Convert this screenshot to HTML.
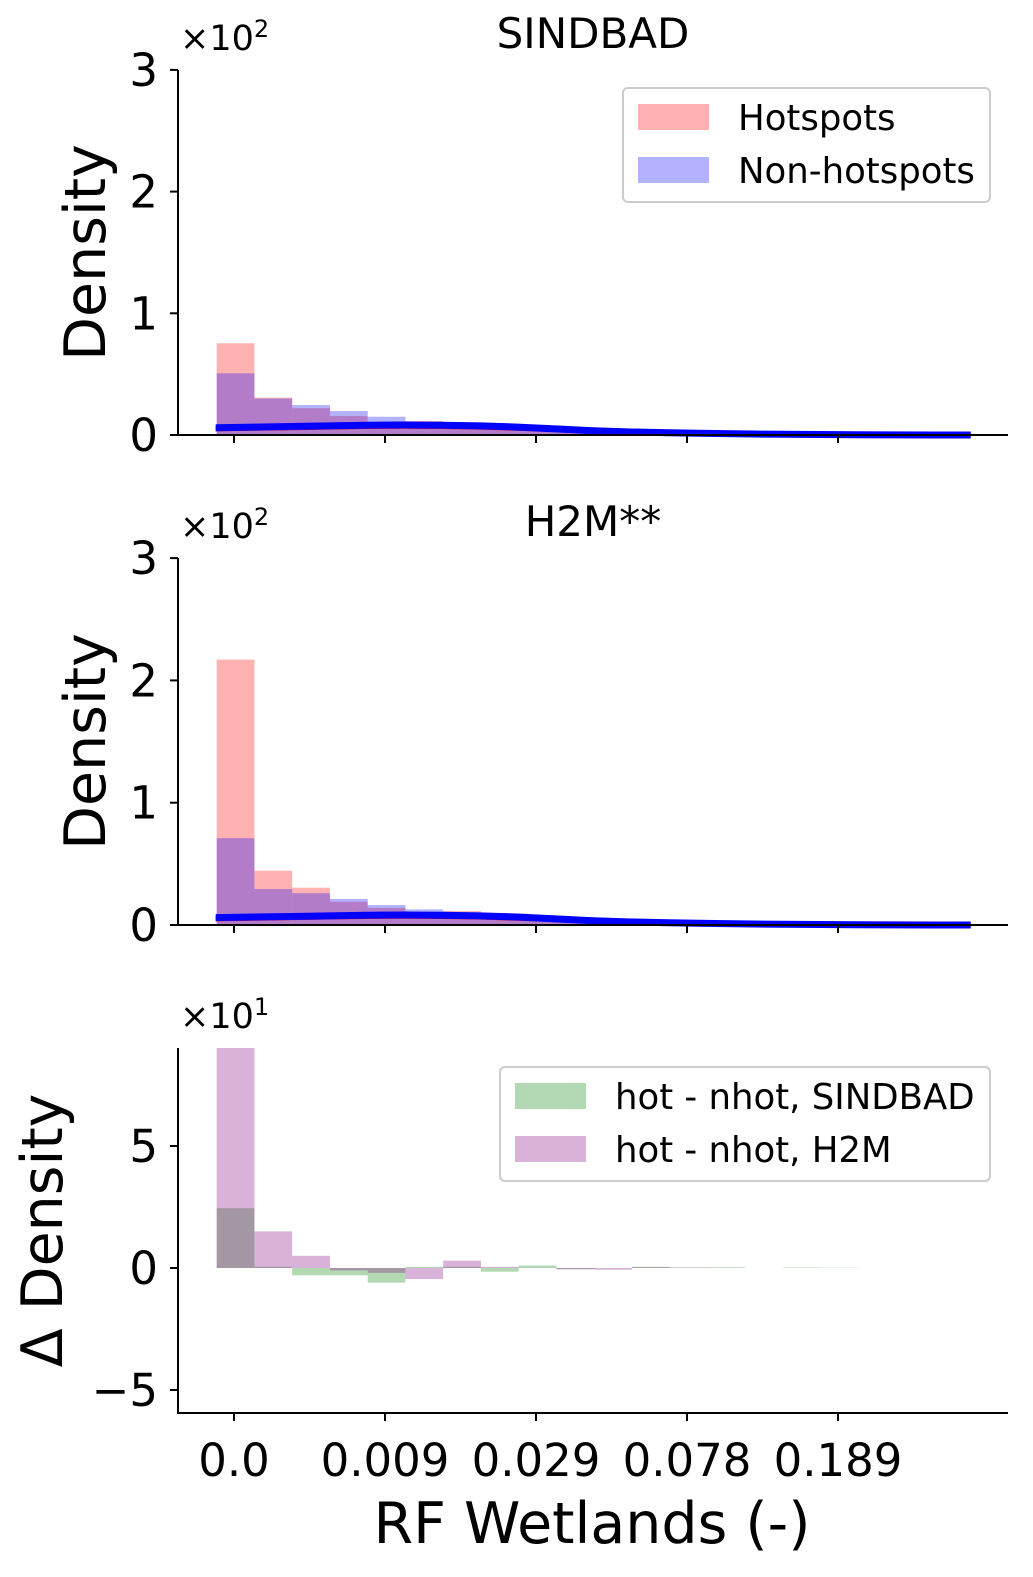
<!DOCTYPE html>
<html><head><meta charset="utf-8"><style>
body{margin:0;background:#fff}
svg{display:block;font-family:"DejaVu Sans","Liberation Sans",sans-serif}
</style></head><body>
<svg id="chart" width="1033" height="1577" viewBox="0 0 1033 1577"></svg>
<script>
const binCount = 20;
const xTickLabels = ["0.0","0.009","0.029","0.078","0.189"];
const xTickBins = [0.5,4.5,8.5,12.5,16.5];
const sindbadHot = [0.754,0.307,0.22,0.156,0.11,0.115,0.08,0.07,0.06,0.05,0.045,0.04,0.035,0.03,0.025,0.02,0.018,0.015,0.012,0.01];
const sindbadNon = [0.507,0.30,0.246,0.197,0.15,0.10,0.08,0.07,0.06,0.05,0.045,0.04,0.035,0.03,0.025,0.02,0.018,0.015,0.012,0.01];
const h2mHot = [2.17,0.444,0.305,0.19,0.14,0.09,0.115,0.074,0.06,0.05,0.04,0.035,0.03,0.025,0.02,0.018,0.015,0.012,0.01,0.008];
const h2mNon = [0.71,0.294,0.26,0.213,0.163,0.128,0.09,0.07,0.055,0.05,0.04,0.035,0.03,0.025,0.02,0.018,0.015,0.012,0.01,0.008];
const diffSindbad = [2.45,0.05,-0.3,-0.3,-0.6,0.05,0.05,-0.15,0.1,-0.05,0.0,0.05,0.02,0.03,0.0,0.02,0.01,0.0,0.0,0.0];
const diffH2M = [14.6,1.5,0.5,-0.1,-0.2,-0.45,0.3,0.05,0.0,-0.05,-0.07,0.03,0.02,0.0,0.0,0.0,0.0,0.0,0.0,0.0];
const kdeHot = [0.05,0.055,0.06,0.065,0.07,0.072,0.07,0.065,0.055,0.045,0.035,0.028,0.022,0.017,0.012,0.008,0.005,0.003,0.002,0.001,0.0];
const kdeNon = [0.06,0.065,0.07,0.075,0.08,0.082,0.08,0.075,0.065,0.05,0.035,0.025,0.018,0.013,0.009,0.006,0.004,0.002,0.001,0.0,0.0];

const svg=document.getElementById('chart');
const NS='http://www.w3.org/2000/svg';
function mk(tag,attrs,parent){const e=document.createElementNS(NS,tag);for(const k in attrs)e.setAttribute(k,attrs[k]);(parent||svg).appendChild(e);return e;}
const X0=216.7,BW=37.75;
function xb(i){return X0+i*BW;}

function panel(cfg){
  const g=mk('g',{});
  
  
  const y=v=>cfg.y0-(v)*cfg.ppu;
  const clip=v=>Math.max(cfg.yTop,Math.min(cfg.yBot,y(v)));
  cfg.series.forEach(s=>{
    s.vals.forEach((v,i)=>{
      const a=clip(0),b=clip(v);
      const r=mk('rect',{x:xb(i),y:Math.min(a,b),width:BW,height:Math.abs(a-b),fill:s.color,'fill-opacity':s.op},g);
      
      
    });
  });
  (cfg.kdes||[]).forEach(k=>{
    const pts=k.vals.map((v,i)=>[X0+i*(BW*20/(k.vals.length-1))-1,y(v)]);
    const p=mk('polyline',{points:pts.map(p=>p.join(',')).join(' '),fill:'none',stroke:k.color,'stroke-width':k.w},g);
    
    
  });
  const ax=mk('path',{d:`M178,${cfg.yTop} V${cfg.yBot} H1008`,stroke:'#000','stroke-width':2,fill:'none'},g);
  
  
  cfg.yticks.forEach((t,i)=>{
    mk('line',{x1:170,x2:178,y1:y(t),y2:y(t),stroke:'#000','stroke-width':2},g);
    const tx=mk('text',{x:158,y:y(t)+16,'font-size':45,'text-anchor':'end'},g);
    tx.textContent=cfg.yLabels[i];
    
    
  });
  xTickBins.forEach((b,i)=>{
    const px=234+(b-0.5)/4*151;
    mk('line',{x1:px,x2:px,y1:cfg.yBot,y2:cfg.yBot+8,stroke:'#000','stroke-width':2},g);
    if(cfg.xlabels){const t=mk('text',{x:px,y:1476,'font-size':45,'text-anchor':'middle'},g);t.textContent=xTickLabels[i];
      }
  });
  const yl=mk('text',{transform:`translate(${cfg.ylx},${(cfg.yTop+cfg.yBot)/2}) rotate(-90)`,'font-size':57,'text-anchor':'middle'},g);
  yl.textContent=cfg.ylabel;
  
  const m=mk('text',{x:180,y:cfg.yTop-20,'font-size':35},g);
  m.innerHTML=cfg.mult;
  
  if(cfg.title){const t=mk('text',{x:593,y:cfg.yTop-22,'font-size':42,'text-anchor':'middle'},g);t.textContent=cfg.title;
    }
  if(cfg.legend){
    const L=cfg.legend;
    const lg=mk('g',{},g);
    mk('rect',{x:L.x,y:L.y,width:L.w,height:114,rx:5,fill:'#fff',stroke:'#ccc','stroke-width':2},lg);
    L.items.forEach((it,i)=>{
      mk('rect',{x:L.x+15,y:L.y+16+i*53,width:71,height:26,fill:it.color,'fill-opacity':it.op},lg);
      const t=mk('text',{x:L.x+115,y:L.y+42+i*53,'font-size':35.5},lg);t.textContent=it.text;
      
    });
  }
}
panel({name:'sindbad-panel',y0:435,ppu:121.7,yTop:70,yBot:435,yticks:[0,1,2,3],yLabels:['0','1','2','3'],
  ylabel:'Density',ylx:105,mult:'×10<tspan font-size="24" dy="-13">2</tspan>',title:'SINDBAD',
  series:[{label:'hotspots',vals:sindbadHot,color:'#ff0000',op:0.3},{label:'non-hotspots',vals:sindbadNon,color:'#0000ff',op:0.3}],
  kdes:[{label:'kde-hotspots',vals:kdeHot,color:'#ff0000',w:5},{label:'kde-non-hotspots',vals:kdeNon,color:'#0000ff',w:7}],
  legend:{x:623,y:88,w:367,items:[{color:'#ff0000',op:0.3,text:'Hotspots'},{color:'#0000ff',op:0.3,text:'Non-hotspots'}]}});
panel({name:'h2m-panel',y0:925,ppu:122.3,yTop:558,yBot:925,yticks:[0,1,2,3],yLabels:['0','1','2','3'],
  ylabel:'Density',ylx:105,mult:'×10<tspan font-size="24" dy="-13">2</tspan>',title:'H2M**',
  series:[{label:'hotspots',vals:h2mHot,color:'#ff0000',op:0.3},{label:'non-hotspots',vals:h2mNon,color:'#0000ff',op:0.3}],
  kdes:[{label:'kde-hotspots',vals:kdeHot,color:'#ff0000',w:5},{label:'kde-non-hotspots',vals:kdeNon,color:'#0000ff',w:7}]});
panel({name:'difference-panel',y0:1268,ppu:24.4,yTop:1048,yBot:1413,yticks:[-5,0,5],yLabels:['−5','0','5'],
  ylabel:'Δ Density',ylx:62,mult:'×10<tspan font-size="24" dy="-13">1</tspan>',xlabels:true,
  series:[{label:'diff-sindbad',vals:diffSindbad,color:'#008000',op:0.3},{label:'diff-h2m',vals:diffH2M,color:'#800080',op:0.3}],
  legend:{x:500,y:1067,w:490,items:[{color:'#008000',op:0.3,text:'hot - nhot, SINDBAD'},{color:'#800080',op:0.3,text:'hot - nhot, H2M'}]}});
const xt=mk('text',{x:592,y:1543,'font-size':57,'text-anchor':'middle'});
xt.textContent='RF Wetlands (-)';


</script>
</body></html>
